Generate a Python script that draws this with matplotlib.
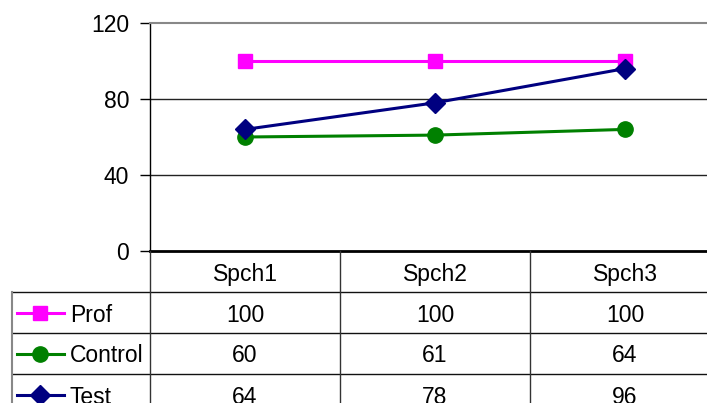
import matplotlib
matplotlib.use("Agg")
import matplotlib.pyplot as plt
from matplotlib.lines import Line2D

categories = ["Spch1", "Spch2", "Spch3"]
series_names = ["Prof", "Control", "Test"]
prof = [100, 100, 100]
control = [60, 61, 64]
test = [64, 78, 96]
y_ticks = [0, 40, 80, 120]

colors = ["#FF00FF", "#008000", "#000080"]
markers = ["s", "o", "D"]
marker_sizes = [10.5, 11, 10]

W, H = 707, 403
FS = 16.5
plt.rcParams["font.family"] = ["Liberation Sans", "DejaVu Sans"]
fig = plt.figure(figsize=(W / 100, H / 100), dpi=100)


def fx(x):
    return x / W


def fy(y):
    return 1 - y / H


# plot area in pixels (extends past the right edge, as in the original)
left, right, top, bottom = 150, 720, 23, 251
col_w = (right - left) / len(categories)
ax = fig.add_axes([fx(left), fy(bottom), fx(right) - fx(left), fy(top) - fy(bottom)])
ax.set_xlim(-0.5, len(categories) - 0.5)
ax.set_ylim(0, 120)

for vals, c, m, ms in zip([prof, control, test], colors, markers, marker_sizes):
    ax.plot(range(len(categories)), vals, color=c, marker=m, markersize=ms,
            linewidth=2.2, clip_on=False, zorder=3)

ax.set_yticks(y_ticks)
ax.set_yticklabels([str(v) for v in y_ticks], fontsize=FS)
ax.tick_params(axis="y", length=7, width=1, pad=8, color="black")
ax.set_xticks([])
for y in [40, 80]:
    ax.axhline(y, color="#222222", linewidth=1, zorder=1)
ax.spines["top"].set_color("#888888")
ax.spines["top"].set_linewidth(1.5)
ax.spines["right"].set_visible(False)
ax.spines["left"].set_linewidth(1)
ax.spines["bottom"].set_linewidth(2)

# data table below the plot
row_h = 41
rows_y = [bottom + row_h * (i + 1) for i in range(len(series_names))]  # top edge of each data row
table_left = 12
text_dy = 2.5


def hline(x0, x1, y, color="black", lw=1):
    fig.add_artist(Line2D([fx(x0), fx(x1)], [fy(y), fy(y)], color=color, lw=lw,
                          transform=fig.transFigure))


def vline(x, y0, y1, color="black", lw=1):
    fig.add_artist(Line2D([fx(x), fx(x)], [fy(y0), fy(y1)], color=color, lw=lw,
                          transform=fig.transFigure))


for y in rows_y:
    hline(table_left, right, y, color="#111111", lw=1)
for i in range(len(categories) + 1):
    vline(left + col_w * i, bottom, H + 20, color="#333333", lw=1)
vline(table_left, rows_y[0], H + 20, color="#888888", lw=1.5)

for i, cat in enumerate(categories):
    fig.text(fx(left + col_w * (i + 0.5)), fy(bottom + row_h / 2 + text_dy), cat,
             ha="center", va="center", fontsize=FS)

for r, (name, vals, c, m, ms) in enumerate(zip(series_names, [prof, control, test],
                                                colors, markers, marker_sizes)):
    cy = rows_y[r] + row_h / 2
    fig.add_artist(Line2D([fx(17), fx(64)], [fy(cy), fy(cy)], color=c, lw=2.2,
                          transform=fig.transFigure))
    fig.add_artist(Line2D([fx(40)], [fy(cy)], color=c, marker=m, markersize=ms,
                          linestyle="none", transform=fig.transFigure))
    fig.text(fx(70), fy(cy + text_dy), name, ha="left", va="center", fontsize=FS)
    for i, v in enumerate(vals):
        fig.text(fx(left + col_w * (i + 0.5)), fy(cy + text_dy), str(v),
                 ha="center", va="center", fontsize=FS)

fig.savefig("out.png", dpi=100)
